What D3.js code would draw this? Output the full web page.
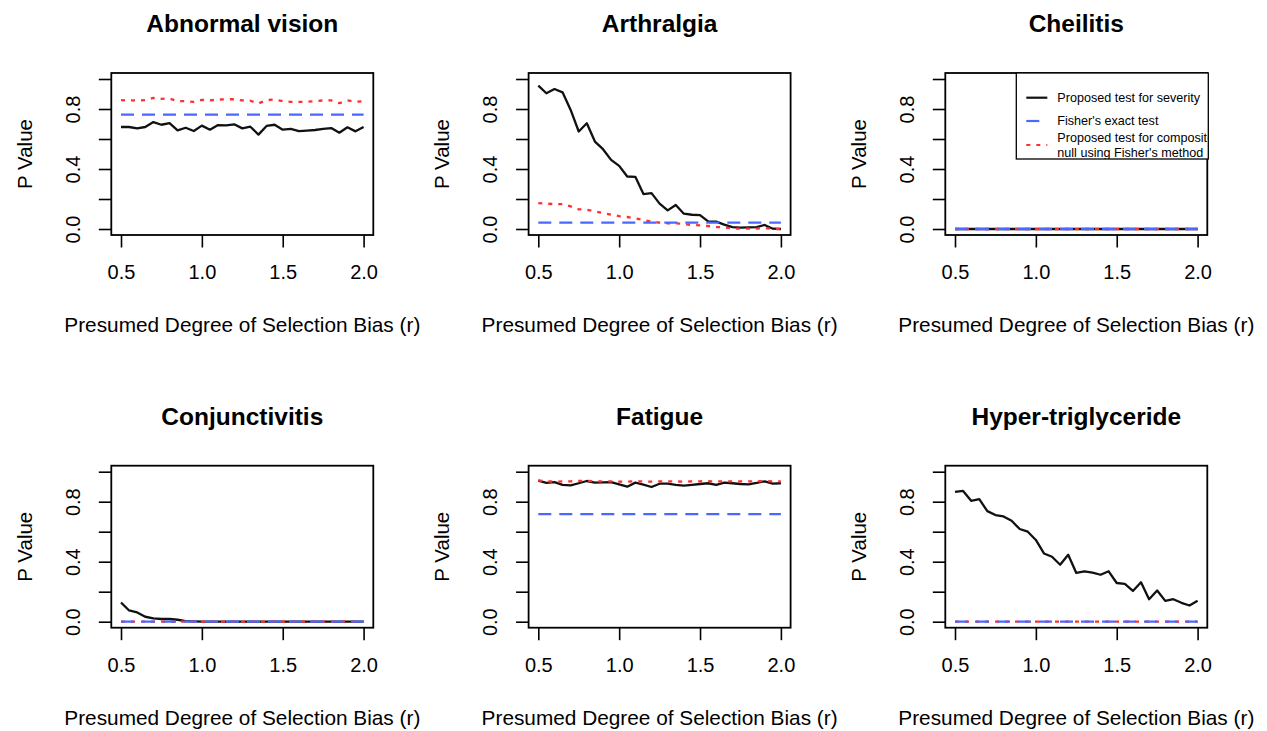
<!DOCTYPE html>
<html>
<head>
<meta charset="utf-8">
<script src="https://cdn.jsdelivr.net/npm/d3@7"></script>
<style>
  body { margin: 0; background: #fff; }
  svg { display: block; font-family: "Liberation Sans", Arial, Helvetica, sans-serif; }
</style>
</head>
<body>
<svg id="chart" width="1267" height="731"></svg>
<script>
// Six-panel P value comparison (base-R look): severity test vs Fisher vs composite null

// ── Data ──────────────────────────────────────────────────────────────────
const xValues = [0.5, 0.55, 0.6, 0.65, 0.7, 0.75, 0.8, 0.85, 0.9, 0.95, 1.0,
                 1.05, 1.1, 1.15, 1.2, 1.25, 1.3, 1.35, 1.4, 1.45, 1.5,
                 1.55, 1.6, 1.65, 1.7, 1.75, 1.8, 1.85, 1.9, 1.95, 2.0];
const xTickValues = [0.5, 1.0, 1.5, 2.0];
const yTickValues = [0, 0.2, 0.4, 0.6, 0.8, 1.0];
const yLabelled   = [0, 0.4, 0.8];

const titles = ['Abnormal vision', 'Arthralgia', 'Cheilitis',
                'Conjunctivitis', 'Fatigue', 'Hyper-triglyceride'];

const legendLabels = [
  ['Proposed test for severity'],
  ["Fisher's exact test"],
  ['Proposed test for composite', "null using Fisher's method"],
];

// Proposed test for severity (black, solid)
const abnormalSeverity       = [0.680, 0.680, 0.671, 0.680, 0.713, 0.695, 0.706, 0.658, 0.675, 0.653, 0.689,
                                0.662, 0.693, 0.691, 0.698, 0.671, 0.682, 0.629, 0.687, 0.695, 0.662,
                                0.667, 0.653, 0.656, 0.660, 0.667, 0.673, 0.642, 0.678, 0.651, 0.680];
const arthralgiaSeverity     = [0.956, 0.905, 0.933, 0.911, 0.794, 0.650, 0.705, 0.583, 0.532, 0.461, 0.421,
                                0.350, 0.348, 0.233, 0.239, 0.169, 0.124, 0.160, 0.102, 0.095, 0.093,
                                0.051, 0.049, 0.029, 0.013, 0.009, 0.011, 0.013, 0.027, 0.002, 0.000];
const cheilitisSeverity      = [0, 0, 0, 0, 0, 0, 0, 0, 0, 0, 0, 0, 0, 0, 0, 0,
                                0, 0, 0, 0, 0, 0, 0, 0, 0, 0, 0, 0, 0, 0, 0];
const conjunctivitisSeverity = [0.128, 0.075, 0.062, 0.033, 0.022, 0.018, 0.018, 0.013, 0.004, 0.002, 0,
                                0, 0, 0, 0, 0, 0, 0, 0, 0, 0,
                                0, 0, 0, 0, 0, 0, 0, 0, 0, 0];
const fatigueSeverity        = [0.940, 0.925, 0.931, 0.912, 0.909, 0.923, 0.938, 0.927, 0.929, 0.931, 0.916,
                                0.900, 0.927, 0.914, 0.898, 0.920, 0.920, 0.912, 0.907, 0.912, 0.918,
                                0.923, 0.912, 0.927, 0.923, 0.918, 0.916, 0.925, 0.936, 0.920, 0.923];
const hyperSeverity          = [0.865, 0.872, 0.806, 0.817, 0.737, 0.711, 0.702, 0.673, 0.618, 0.600, 0.545,
                                0.455, 0.433, 0.380, 0.446, 0.325, 0.336, 0.327, 0.313, 0.336, 0.258,
                                0.252, 0.205, 0.263, 0.150, 0.208, 0.139, 0.150, 0.126, 0.108, 0.139];

// Proposed test for composite null using Fisher's method (red, dotted)
const abnormalComposite       = [0.859, 0.857, 0.857, 0.859, 0.874, 0.868, 0.870, 0.852, 0.852, 0.848, 0.861,
                                 0.857, 0.863, 0.865, 0.865, 0.857, 0.855, 0.837, 0.859, 0.863, 0.852,
                                 0.848, 0.848, 0.848, 0.852, 0.857, 0.857, 0.839, 0.857, 0.848, 0.852];
const arthralgiaComposite     = [0.173, 0.169, 0.166, 0.166, 0.151, 0.131, 0.129, 0.118, 0.106, 0.095, 0.086,
                                 0.080, 0.071, 0.060, 0.049, 0.042, 0.038, 0.038, 0.033, 0.027, 0.024,
                                 0.020, 0.013, 0.011, 0.004, 0.002, 0.002, 0.002, 0.007, 0.000, 0.000];
const cheilitisComposite      = [0, 0, 0, 0, 0, 0, 0, 0, 0, 0, 0, 0, 0, 0, 0, 0,
                                 0, 0, 0, 0, 0, 0, 0, 0, 0, 0, 0, 0, 0, 0, 0];
const conjunctivitisComposite = [0, 0, 0, 0, 0, 0, 0, 0, 0, 0, 0, 0, 0, 0, 0, 0,
                                 0, 0, 0, 0, 0, 0, 0, 0, 0, 0, 0, 0, 0, 0, 0];
const fatigueComposite        = [0.942, 0.936, 0.934, 0.935, 0.936, 0.938, 0.939, 0.936, 0.935, 0.936, 0.934,
                                 0.933, 0.936, 0.935, 0.934, 0.936, 0.936, 0.935, 0.934, 0.935, 0.936,
                                 0.937, 0.935, 0.936, 0.936, 0.935, 0.935, 0.936, 0.938, 0.936, 0.936];
const hyperComposite          = [0, 0, 0, 0, 0, 0, 0, 0, 0, 0, 0, 0, 0, 0, 0, 0,
                                 0, 0, 0, 0, 0, 0, 0, 0, 0, 0, 0, 0, 0, 0, 0];

// Fisher's exact test (blue, dashed) — flat across r
const fisherExact = [0.762, 0.042, 0, 0, 0.717, 0];

const severity  = [abnormalSeverity, arthralgiaSeverity, cheilitisSeverity,
                   conjunctivitisSeverity, fatigueSeverity, hyperSeverity];
const composite = [abnormalComposite, arthralgiaComposite, cheilitisComposite,
                   conjunctivitisComposite, fatigueComposite, hyperComposite];

// ── Layout / style ────────────────────────────────────────────────────────
const colLeft = [111.3, 528.6, 945.3];
const rowTop  = [73, 465.7];
const panelW  = 262, panelH = 162;
const LEGEND_PANEL = 2;

const styles = {
  severity:  { color: '#111111', dash: null },
  fisher:    { color: '#4a68ff', dash: '13 8' },
  composite: { color: '#ff3030', dash: '4 6' },
};

const svg = d3.select('#chart');
svg.append('rect').attr('width', 1267).attr('height', 731).attr('fill', '#fff');

const x = d3.scaleLinear().domain([0.44, 2.06]).range([0, panelW]);
const y = d3.scaleLinear().domain([-0.04, 1.04]).range([panelH, 0]);

const line = d3.line().x(d => x(d[0])).y(d => y(d[1]));

titles.forEach((title, i) => {
  const col = i % 3, row = Math.floor(i / 3);
  const g = svg.append('g').attr('transform', `translate(${colLeft[col]},${rowTop[row]})`);

  // Axes
  const gx = g.append('g').attr('transform', `translate(0,${panelH})`)
    .call(d3.axisBottom(x).tickValues(xTickValues).tickSize(12.5).tickSizeOuter(0)
      .tickFormat(d3.format('.1f')));
  gx.select('.domain').remove();
  gx.selectAll('line').attr('stroke', '#000').attr('stroke-width', 1.6);
  gx.selectAll('text').attr('y', 44).attr('dy', 0)
    .attr('font-size', 20).attr('font-family', null).attr('fill', '#000');

  const gy = g.append('g')
    .call(d3.axisLeft(y).tickValues(yTickValues).tickSize(12.5).tickSizeOuter(0)
      .tickFormat(d => yLabelled.includes(d) ? d3.format('.1f')(d) : ''));
  gy.select('.domain').remove();
  gy.selectAll('line').attr('stroke', '#000').attr('stroke-width', 1.6);
  gy.selectAll('text').attr('x', 0).attr('dy', 0)
    .attr('transform', 'translate(-31.5,0) rotate(-90)')
    .attr('text-anchor', 'middle')
    .attr('font-size', 20).attr('font-family', null).attr('fill', '#000');

  // Series: severity, composite, then Fisher on top
  const sevPts  = xValues.map((v, k) => [v, severity[i][k]]);
  const compPts = xValues.map((v, k) => [v, composite[i][k]]);
  const fishPts = xValues.map(v => [v, fisherExact[i]]);

  [[sevPts, styles.severity], [compPts, styles.composite], [fishPts, styles.fisher]]
    .forEach(([pts, s]) => {
      g.append('path')
        .attr('d', line(pts))
        .attr('fill', 'none')
        .attr('stroke', s.color)
        .attr('stroke-width', 2.3)
        .attr('stroke-linejoin', 'round')
        .attr('stroke-dasharray', s.dash);
    });

  // Plot box
  g.append('rect').attr('width', panelW).attr('height', panelH)
    .attr('fill', 'none').attr('stroke', '#000').attr('stroke-width', 1.8);

  // Title and axis labels
  g.append('text').attr('x', panelW / 2).attr('y', -41)
    .attr('text-anchor', 'middle').attr('font-size', 24.5).attr('font-weight', 'bold')
    .text(title);
  g.append('text').attr('x', panelW / 2).attr('y', panelH + 97)
    .attr('text-anchor', 'middle').attr('font-size', 20.8)
    .text('Presumed Degree of Selection Bias (r)');
  g.append('text')
    .attr('transform', `translate(-79.5,${panelH / 2}) rotate(-90)`)
    .attr('text-anchor', 'middle').attr('font-size', 20.5)
    .text('P Value');

  if (i === LEGEND_PANEL) drawLegend(g);
});

function drawLegend(g) {
  const lx = panelW - 191, lw = 192, lh = 86;
  const clipId = 'legend-clip';
  svg.append('defs').append('clipPath').attr('id', clipId)
    .append('rect').attr('x', lx).attr('y', 0)
    .attr('width', lw - 1).attr('height', lh);

  const lg = g.append('g');
  lg.append('rect').attr('x', lx).attr('y', 0).attr('width', lw).attr('height', lh)
    .attr('fill', '#fff').attr('stroke', '#000').attr('stroke-width', 1.3);

  const itemStyles = [styles.severity, styles.fisher, styles.composite];
  const itemY = [24.7, 48, 72];
  const textG = lg.append('g').attr('clip-path', `url(#${clipId})`);

  legendLabels.forEach((lines, k) => {
    const s = itemStyles[k];
    lg.append('line')
      .attr('x1', lx + 10).attr('x2', lx + 31)
      .attr('y1', itemY[k]).attr('y2', itemY[k])
      .attr('stroke', s.color).attr('stroke-width', 2.2)
      .attr('stroke-dasharray', s.dash);
    const t = textG.append('text').attr('font-size', 12.6).attr('fill', '#000');
    const startY = itemY[k] + 4.4 - (lines.length - 1) * 7.3;
    lines.forEach((str, j) => {
      t.append('tspan').attr('x', lx + 41).attr('y', startY + j * 14.6).text(str);
    });
  });
}
</script>
</body>
</html>
